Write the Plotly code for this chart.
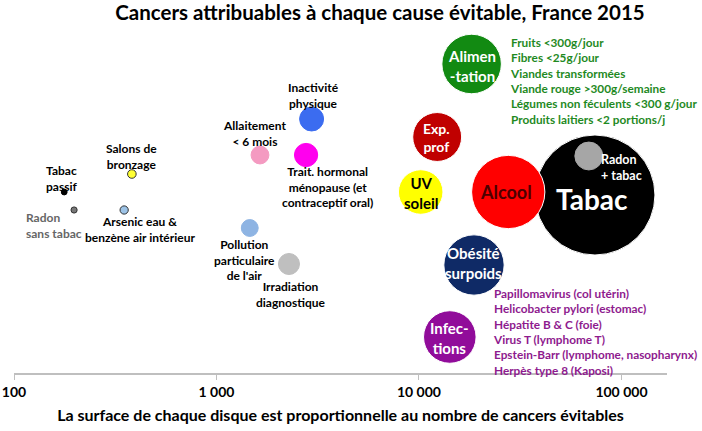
import numpy as np
import plotly.graph_objects as go

# number of avoidable cancers per cause (x position and disc area)
causes = ["Tabac", "Alcool", "Radon + tabac", "Alimentation", "Exp. prof", "UV soleil",
          "Obésité", "Infections", "Inactivité physique", "Allaitement", "Trait. hormonal",
          "Salons de bronzage", "Tabac passif", "Radon sans tabac", "Arsenic / benzène",
          "Pollution", "Irradiation"]
counts = [74000, 27600, 4000, 18200, 12300, 10200, 18700, 14200, 2950, 1640, 2770,
          382, 177, 198, 350, 1460, 2280]
# radon + tabac is drawn inside the tabac disc
x_pos = [74000, 27600, 69000, 18200, 12300, 10200, 18700, 14200, 2950, 1640, 2770,
         382, 177, 198, 350, 1460, 2280]
levels = [178, 181, 217, 309, 236, 181, 108, 36, 254, 218, 218, 199, 181, 163, 163, 145, 109]
colors = ["#000000", "#ff0000", "#a6a6a6", "#128a12", "#c00000", "#ffff00", "#0f2a66",
          "#910c9a", "#3b6cf0", "#f49ac1", "#ff00ee", "#ffff33", "#000000", "#777777",
          "#9dc3e6", "#8eb4e3", "#bfbfbf"]
outlines = ["white", "white", "#a6a6a6", "white", "white", "white", "white", "white",
            "#3b6cf0", "#f49ac1", "#ff00ee", "#333333", "#000000", "#333333", "#333333",
            "#8eb4e3", "#bfbfbf"]

alim_list = ["Fruits <300g/jour", "Fibres <25g/jour", "Viandes transformées",
             "Viande rouge >300g/semaine", "Légumes non féculents <300 g/jour",
             "Produits laitiers <2 portions/j"]
infect_list = ["Papillomavirus (col utérin)", "Helicobacter pylori (estomac)",
               "Hépatite B & C (foie)", "Virus T (lymphome T)",
               "Epstein-Barr (lymphome, nasopharynx)", "Herpès type 8 (Kaposi)"]

tick_vals = [100, 1000, 10000, 100000]
tick_text = ["100", "1 000", "10 000", "100 000"]

FONT = "Lato"
sizeref = 2 * max(counts) / 120 ** 2

fig = go.Figure()
fig.add_trace(go.Scatter(
    x=x_pos, y=levels, mode="markers", hoverinfo="text", hovertext=causes,
    marker=dict(size=counts, sizemode="area", sizeref=sizeref, color=colors,
                opacity=1, line=dict(color=outlines, width=1)),
    showlegend=False))

idx = {c: i for i, c in enumerate(causes)}


def label(cause, text, dx=0, dy=0, color="black", size=12, align="center", xanchor="center"):
    i = idx[cause]
    fig.add_annotation(x=np.log10(x_pos[i]), y=levels[i], text="<b>" + text + "</b>",
                       showarrow=False, xshift=dx, yshift=dy, align=align, xanchor=xanchor,
                       font=dict(family=FONT, size=size, color=color))


# labels outside the discs
label("Tabac passif", "Tabac<br>passif", -2, 14)
label("Salons de bronzage", "Salons de<br>bronzage", 0, 18)
label("Allaitement", "Allaitement<br>< 6 mois", -5, 22)
label("Inactivité physique", "Inactivité<br>physique", 2, 24)
label("Trait. hormonal", "Trait. hormonal<br>ménopause (et<br>contraceptif oral)", 21, -32)
label("Radon sans tabac", "Radon<br>sans tabac", -20, -15, color="#666666", align="left")
label("Arsenic / benzène", "Arsenic eau &<br>benzène air intérieur", 16, -19)
label("Pollution", "Pollution<br>particulaire<br>de l'air", -5, -32)
label("Irradiation", "Irradiation<br>diagnostique", 2, -30)
label("Alimentation", "<br>".join(alim_list), 36, -17, color="#1f8a1f", size=11.8,
      align="left", xanchor="left")
label("Infections", "<br>".join(infect_list), 41, 5, color="#8e1a8e", size=11.8,
      align="left", xanchor="left")

# labels inside the discs
label("Alimentation", "Alimen<br>-tation", 0, -2, color="white", size=15)
label("Exp. prof", "Exp.<br>prof", -1, 0, color="white", size=14)
label("UV soleil", "UV<br>soleil", 1, -1, size=15)
label("Alcool", "Alcool", -2, 0, color="#4d0000", size=18)
label("Tabac", "Tabac", -3, -4, color="white", size=28)
label("Radon + tabac", "Radon<br>+ tabac", 33, -11, color="white", size=12.5, align="left")
label("Obésité", "Obésité<br>surpoids", -1, 2, color="white", size=15)
label("Infections", "Infec-<br>tions", 0, -1, color="white", size=15)

fig.update_layout(
    width=702, height=431,
    margin=dict(l=14, r=35, t=30, b=58),
    paper_bgcolor="white", plot_bgcolor="white",
    font=dict(family=FONT, color="black"),
    title=dict(text="<b>Cancers attribuables à chaque cause évitable, France 2015</b>",
               x=380 / 702, xanchor="center", y=1 - 6 / 431, yanchor="top",
               font=dict(family=FONT, size=20.5, color="black")),
    xaxis=dict(type="log", range=[2, 5.225], tickvals=tick_vals, ticktext=tick_text,
               tickfont=dict(family=FONT, size=14, color="black", weight="bold"),
               showgrid=False, zeroline=False, showline=True, linecolor="#bfbfbf",
               linewidth=1.5, ticks="outside", ticklen=5, tickcolor="#bfbfbf",
               automargin=False,
               title=dict(text="<b>La surface de chaque disque est proportionnelle au nombre de cancers évitables</b>",
                          font=dict(family=FONT, size=16, color="black"), standoff=11)),
    yaxis=dict(range=[0, 343], visible=False, fixedrange=True, automargin=False),
)

# the page body has a default 8px margin; drop it so the figure fills the window
fig.write_html("out.html", config={"displayModeBar": False},
               post_script="document.body.style.margin='0';")
